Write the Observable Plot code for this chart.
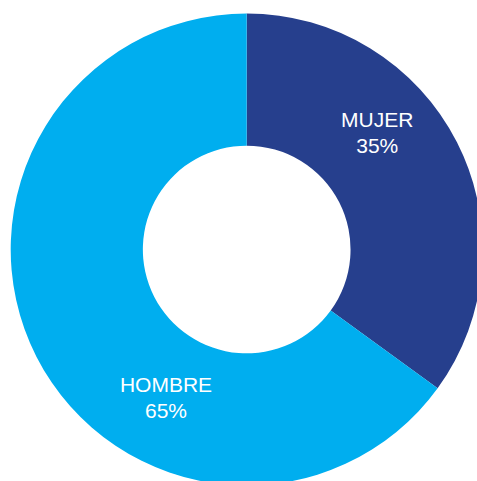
<!DOCTYPE html>
<html><head><meta charset="utf-8">
<script src="https://cdn.jsdelivr.net/npm/d3@7"></script>
<script src="https://cdn.jsdelivr.net/npm/@observablehq/plot@0.6"></script>
<style>html,body{margin:0;padding:0;overflow:hidden;background:#fff}</style>
</head><body><div id="chart"></div>
<script>
// Data
const categories = ["MUJER", "HOMBRE"];
const shares = [35, 65];
const percentLabels = ["35%", "65%"];

// Styling / layout
const colors = ["#263f8d", "#00aeef"];
const labelAngleDeg = [47.8, 208.9];   // clockwise from 12 o'clock
const labelRadius = [0.744, 0.712];    // fraction of outer radius
const innerRatio = 0.44;

const rows = categories.map((c, i) => ({
  category: c,
  share: shares[i],
  label: c + "\n" + percentLabels[i],
  color: colors[i],
  lx: labelRadius[i] * Math.sin(labelAngleDeg[i] * Math.PI / 180),
  ly: labelRadius[i] * Math.cos(labelAngleDeg[i] * Math.PI / 180)
}));
const arcs = d3.pie().sort(null).value(d => d.share)(rows);

const donut = (index, scales, values, dimensions, context) => {
  const cx = scales.x(0), cy = scales.y(0);
  const R = scales.x(1) - scales.x(0);
  const arc = d3.arc().innerRadius(R * innerRatio).outerRadius(R);
  const g = d3.create("svg:g").attr("transform", `translate(${cx},${cy})`);
  g.selectAll("path").data(arcs).join("path")
    .attr("d", arc)
    .attr("fill", d => d.data.color);
  return g.node();
};

const chart = Plot.plot({
  width: 477,
  height: 481,
  margin: 0,
  x: {domain: [-1, 1], range: [10.7, 482.7], axis: null},
  y: {domain: [-1, 1], range: [485.5, 13.5], axis: null},
  style: {background: "#fff", overflow: "hidden"},
  marks: [
    donut,
    Plot.text(rows, {
      x: "lx", y: "ly", text: "label",
      fill: "#fff", fontSize: 21, lineHeight: 1.22,
      fontFamily: "'Helvetica Neue', Helvetica, Arial, 'Liberation Sans', sans-serif",
      textAnchor: "middle"
    })
  ]
});
document.getElementById("chart").append(chart);
</script>
</body></html>
